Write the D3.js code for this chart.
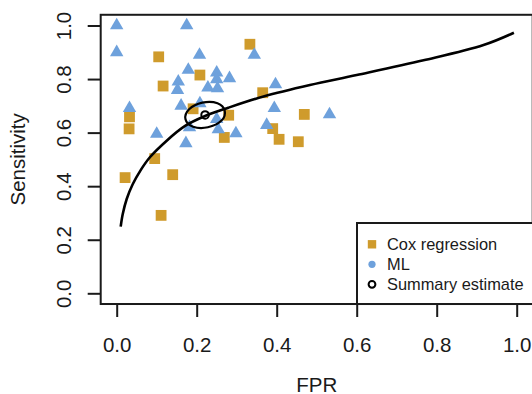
<!DOCTYPE html>
<html>
<head>
<meta charset="utf-8">
<script src="https://cdn.jsdelivr.net/npm/d3@7"></script>
<style>
  html, body { margin: 0; padding: 0; background: #fff; }
  svg { display: block; font-family: "Liberation Sans", Arial, Helvetica, sans-serif; }
</style>
</head>
<body>
<div id="chart"></div>
<script>
// ---------------------------------------------------------------------------
// DATA
// ---------------------------------------------------------------------------
// Cox regression studies (squares)
const coxFpr  = [0.333, 0.105, 0.208, 0.116, 0.365, 0.032, 0.031, 0.191, 0.280,
                 0.469, 0.390, 0.406, 0.269, 0.454, 0.095, 0.021, 0.140, 0.111];
const coxSens = [0.930, 0.883, 0.815, 0.774, 0.749, 0.659, 0.614, 0.689, 0.665,
                 0.668, 0.615, 0.575, 0.582, 0.566, 0.503, 0.432, 0.443, 0.291];

// ML studies (triangles)
const mlFpr  = [0.000, 0.175, 0.000, 0.207, 0.344, 0.179, 0.250, 0.282, 0.154,
                0.250, 0.152, 0.228, 0.252, 0.397, 0.032, 0.161, 0.208, 0.394,
                0.250, 0.182, 0.254, 0.298, 0.375, 0.100, 0.173, 0.532];
const mlSens = [1.000, 1.000, 0.900, 0.890, 0.890, 0.834, 0.824, 0.803, 0.790,
                0.799, 0.759, 0.768, 0.765, 0.780, 0.691, 0.700, 0.709, 0.691,
                0.650, 0.620, 0.612, 0.597, 0.628, 0.595, 0.560, 0.668];

// SROC curve
const srocFpr  = [0.010, 0.015, 0.025, 0.040, 0.060, 0.083, 0.125, 0.171, 0.221,
                  0.279, 0.367, 0.483, 0.600, 0.767, 0.917, 0.993];
const srocSens = [0.249, 0.295, 0.352, 0.407, 0.460, 0.508, 0.570, 0.625, 0.662,
                  0.693, 0.735, 0.778, 0.815, 0.870, 0.927, 0.973];

// summary estimate + its confidence region
const summaryFpr = 0.221, summarySens = 0.666;
const regionFpr  = [0.270, 0.262, 0.228, 0.191, 0.172, 0.181, 0.214, 0.252];
const regionSens = [0.682, 0.645, 0.620, 0.622, 0.650, 0.687, 0.712, 0.710];

const xTicks = [0, 0.2, 0.4, 0.6, 0.8, 1.0];
const yTicks = [0, 0.2, 0.4, 0.6, 0.8, 1.0];

const legendLabels = ["Cox regression", "ML", "Summary estimate"];

// ---------------------------------------------------------------------------
// SETUP
// ---------------------------------------------------------------------------
const W = 532, H = 394;
const coxColor = "#cf9b2c";
const mlColor  = "#6ea1dc";
const ink = "#1a1a1a";

const svg = d3.select("#chart").append("svg")
  .attr("width", W).attr("height", H);

const x = d3.scaleLinear().domain([0, 1]).range([116.7, 516.7]);
const y = d3.scaleLinear().domain([0, 1]).range([293.3, 25.5]);

// plot box (R style 4% padding)
const boxL = x(-0.04), boxR = x(1.04), boxT = y(1.04), boxB = y(-0.04);

// axes
const xAxis = svg.append("g")
  .attr("transform", `translate(0,${boxB})`)
  .call(d3.axisBottom(x).tickValues(xTicks).tickSize(13).tickFormat(d3.format(".1f")));
xAxis.select(".domain").remove();
xAxis.selectAll(".tick line").attr("stroke", ink).attr("stroke-width", 2);
xAxis.selectAll(".tick text")
  .attr("y", 48).attr("dy", null)
  .attr("fill", ink)
  .style("font-size", "20.5px");

const yAxis = svg.append("g")
  .attr("transform", `translate(${boxL},0)`)
  .call(d3.axisLeft(y).tickValues(yTicks).tickSize(13).tickFormat(d3.format(".1f")));
yAxis.select(".domain").remove();
yAxis.selectAll(".tick line").attr("stroke", ink).attr("stroke-width", 2);
yAxis.selectAll(".tick text")
  .attr("x", 0).attr("dy", null)
  .attr("text-anchor", "middle")
  .attr("transform", `translate(${70.5 - boxL},0) rotate(-90)`)
  .attr("fill", ink)
  .style("font-size", "20.5px");

// axis titles
svg.append("text")
  .attr("x", (boxL + boxR) / 2).attr("y", 392)
  .attr("text-anchor", "middle")
  .attr("fill", ink)
  .style("font-size", "20.5px")
  .text("FPR");

svg.append("text")
  .attr("transform", `translate(25,${(boxT + boxB) / 2}) rotate(-90)`)
  .attr("text-anchor", "middle")
  .attr("fill", ink)
  .style("font-size", "20.5px")
  .text("Sensitivity");

// ---------------------------------------------------------------------------
// POINTS
// ---------------------------------------------------------------------------
const cox = coxFpr.map((f, i) => ({ fpr: f, sens: coxSens[i] }));
const ml  = mlFpr.map((f, i) => ({ fpr: f, sens: mlSens[i] }));

svg.append("g").selectAll("rect")
  .data(cox).join("rect")
  .attr("x", d => x(d.fpr) - 5.4)
  .attr("y", d => y(d.sens) - 5.4)
  .attr("width", 10.8).attr("height", 10.8)
  .attr("fill", coxColor);

const tri = d3.symbol().type(d3.symbolTriangle).size(78);
svg.append("g").selectAll("path")
  .data(ml).join("path")
  .attr("transform", d => `translate(${x(d.fpr)},${y(d.sens)})`)
  .attr("d", tri)
  .attr("fill", mlColor);

// SROC curve
const sroc = srocFpr.map((f, i) => [f, srocSens[i]]);
svg.append("path")
  .datum(sroc)
  .attr("fill", "none")
  .attr("stroke", "#000")
  .attr("stroke-width", 2.6)
  .attr("d", d3.line().curve(d3.curveCatmullRom.alpha(0.5)).x(d => x(d[0])).y(d => y(d[1])));

// confidence region
const region = regionFpr.map((f, i) => [f, regionSens[i]]);
svg.append("path")
  .datum(region)
  .attr("fill", "none")
  .attr("stroke", "#000")
  .attr("stroke-width", 2.2)
  .attr("d", d3.line().curve(d3.curveCardinalClosed).x(d => x(d[0])).y(d => y(d[1])));

// summary point
svg.append("circle")
  .attr("cx", x(summaryFpr)).attr("cy", y(summarySens))
  .attr("r", 3.8)
  .attr("fill", "none")
  .attr("stroke", "#000")
  .attr("stroke-width", 2);

// frame
svg.append("rect")
  .attr("x", boxL).attr("y", boxT)
  .attr("width", boxR - boxL).attr("height", boxB - boxT)
  .attr("fill", "none")
  .attr("stroke", ink)
  .attr("stroke-width", 2);

// ---------------------------------------------------------------------------
// LEGEND
// ---------------------------------------------------------------------------
const lg = svg.append("g");
lg.append("rect")
  .attr("x", 357).attr("y", 223)
  .attr("width", boxR - 357 + 10).attr("height", boxB - 223)
  .attr("fill", "#fff")
  .attr("stroke", ink)
  .attr("stroke-width", 2);

const rowY = i => 244.3 + i * 20;
lg.append("rect")
  .attr("x", 372 - 4.2).attr("y", rowY(0) - 4.2)
  .attr("width", 8.4).attr("height", 8.4)
  .attr("fill", coxColor);
lg.append("circle")
  .attr("cx", 372).attr("cy", rowY(1)).attr("r", 3.6)
  .attr("fill", mlColor);
lg.append("circle")
  .attr("cx", 372).attr("cy", rowY(2)).attr("r", 3.4)
  .attr("fill", "none").attr("stroke", "#000").attr("stroke-width", 2);

lg.selectAll("text")
  .data(legendLabels).join("text")
  .attr("x", 387)
  .attr("y", (d, i) => rowY(i) + 5.8)
  .attr("fill", ink)
  .style("font-size", "16.4px")
  .text(d => d);
</script>
</body>
</html>
